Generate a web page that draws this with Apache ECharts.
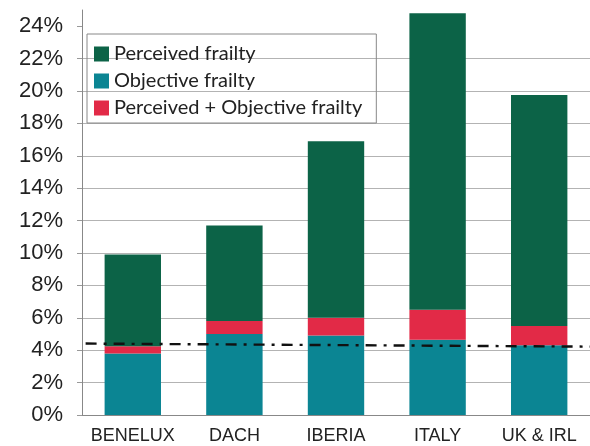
<!DOCTYPE html>
<html>
<head>
<meta charset="utf-8">
<script src="https://cdn.jsdelivr.net/npm/echarts@6/dist/echarts.min.js"></script>
<style>
  html, body { margin: 0; padding: 0; background: #fff; }
  #chart { width: 590px; height: 446px; }
</style>
</head>
<body>
<div id="chart"></div>
<script>
"use strict";

// regiones
const regions = ['BENELUX', 'DACH', 'IBERIA', 'ITALY', 'UK & IRL'];

// valores de cada serie (%)
const objective = [3.8, 5.0, 4.9, 4.65, 4.3];
const combined = [0.45, 0.8, 1.1, 1.85, 1.2];
const perceived = [5.65, 5.9, 10.9, 18.3, 14.25];

// marcas del eje Y
const yTicks = [0, 2, 4, 6, 8, 10, 12, 14, 16, 18, 20, 22, 24];

// linea de tendencia punteada (posicion en categorias, valor %)
const trendX = [-0.24, 5];
const trendY = [4.42, 4.22];

const font = 'Liberation Sans, Arial, sans-serif';

var myChart = echarts.init(document.getElementById('chart'));

var option = {
    animation: false,
    grid: { left: 82, right: -5, top: 10, bottom: 31 },

    // Leyenda
    legend: {
        orient: 'vertical',
        left: 87,
        top: 34,
        data: ['Perceived frailty', 'Objective frailty', 'Perceived + Objective frailty'],
        itemWidth: 15,
        itemHeight: 15,
        itemGap: 7,
        padding: [10, 14, 5, 7],
        borderColor: '#888',
        borderWidth: 1,
        icon: 'rect',
        textStyle: { fontFamily: 'Lato', fontSize: 20, color: '#222' }
    },

    xAxis: [{
        type: 'category',
        data: regions,
        axisLine: { lineStyle: { color: '#888' } },
        axisTick: { length: 5, lineStyle: { color: '#999' } },
        axisLabel: { interval: 0, fontFamily: font, fontSize: 18, color: '#222', margin: 12 }
    }, {
        type: 'value',
        min: 0,
        max: 5,
        show: false
    }],

    yAxis: {
        type: 'value',
        min: 0,
        max: 25,
        interval: 2,
        axisLine: { show: true, lineStyle: { color: '#888' } },
        axisTick: { show: true, length: 5, customValues: yTicks, lineStyle: { color: '#999' } },
        axisLabel: {
            fontFamily: font, fontSize: 22, color: '#222', margin: 19,
            formatter: '{value}%', showMaxLabel: false
        },
        splitLine: { showMaxLine: false, lineStyle: { color: '#b3b3b3' } }
    },

    series: [{
        name: 'Objective frailty',
        type: 'bar',
        stack: 'a',
        barWidth: '55.5%',
        itemStyle: { color: '#0b8593' },
        data: objective
    }, {
        name: 'Perceived + Objective frailty',
        type: 'bar',
        stack: 'a',
        itemStyle: { color: '#e22a47' },
        data: combined
    }, {
        name: 'Perceived frailty',
        type: 'bar',
        stack: 'a',
        itemStyle: { color: '#0c6347' },
        data: perceived
    }, {
        name: 'trend',
        type: 'line',
        xAxisIndex: 1,
        clip: false,
        symbol: 'none',
        z: 10,
        lineStyle: { color: '#111', width: 2.4, type: [11, 7, 3, 7] },
        data: trendX.map((x, i) => [x, trendY[i]])
    }]
};

myChart.setOption(option);
</script>
</body>
</html>
